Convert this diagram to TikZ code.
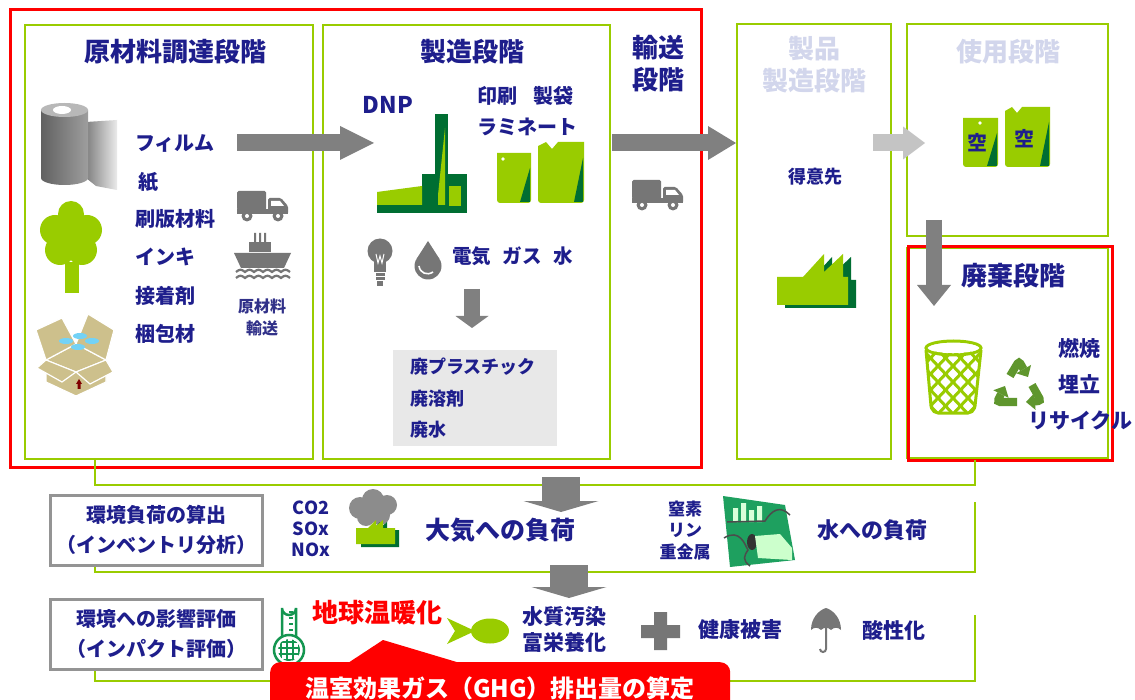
\documentclass[tikz,border=0pt]{standalone}
\usepackage{fontspec}
\setmainfont{Noto Sans CJK JP}
\usetikzlibrary{arrows.meta}
\definecolor{navy}{RGB}{30,30,140}
\definecolor{lime}{RGB}{153,204,0}
\definecolor{dkgreen}{RGB}{0,110,50}
\definecolor{pale}{RGB}{210,214,236}
\definecolor{arrowgray}{RGB}{128,128,128}
\definecolor{lightarrow}{RGB}{196,196,196}
\definecolor{icongray}{RGB}{118,118,118}
\definecolor{boxtan}{RGB}{205,192,140}
\definecolor{redline}{RGB}{255,0,0}
\definecolor{wastebg}{RGB}{232,232,232}
\definecolor{thermo}{RGB}{20,150,80}
\definecolor{waterg}{RGB}{30,160,95}
\definecolor{recyc}{RGB}{95,150,45}

\begin{document}
\begin{tikzpicture}[x=1pt,y=-1pt,
  panel/.style={draw=lime, line width=2.5pt},
  redframe/.style={draw=redline, line width=3pt},
  link/.style={draw=lime, line width=2.5pt},
  stagetitle/.style={text=navy, font=\bfseries\fontsize{26}{32}\selectfont, inner sep=0pt, align=center},
  paletitle/.style={stagetitle, text=pale},
  itemtxt/.style={text=navy, font=\bfseries\fontsize{20}{24}\selectfont, inner sep=0pt, anchor=west},
  smalltxt/.style={text=navy, font=\bfseries\fontsize{16}{22}\selectfont, inner sep=0pt, align=center},
  midtxt/.style={text=navy, font=\bfseries\fontsize{21}{26}\selectfont, inner sep=0pt, align=center},
  graybox/.style={draw=black!42, line width=3pt, fill=white, minimum width=212pt, minimum height=70pt,
    text=navy, font=\bfseries\fontsize{20}{30}\selectfont, align=center, inner sep=0pt},
  flowarrow/.style={draw=arrowgray, line width=17pt, -{Triangle[length=34pt,width=34pt,line width=0pt]}},
  lightflow/.style={draw=lightarrow, line width=17pt, -{Triangle[length=22pt,width=33pt,line width=0pt]}},
  downflow/.style={draw=arrowgray, line width=16pt, -{Triangle[length=12pt,width=33pt,line width=0pt]}},
  bigdown/.style={draw=arrowgray, line width=38pt, -{Triangle[length=11pt,width=75pt,line width=0pt]}},
  recyclearrow/.style={draw=recyc, line width=8pt, rounded corners=3pt, -{Triangle[length=9pt,width=17pt,line width=0pt]}},
]
\useasboundingbox[fill=white] (0,0) rectangle (1135,700);

% ---------- stage panels ----------
\draw[panel] (25,25) rectangle (313,459);
\draw[panel] (323,25) rectangle (610,459);
\draw[panel] (737,24) rectangle (891,459);
\draw[panel] (907,24) rectangle (1108,236);
\draw[panel] (907,248) rectangle (1108,458);
\draw[redframe] (10,10) rectangle (701,467);
\draw[redframe] (908,247) rectangle (1112,460);

% ---------- green brackets of the evaluation rows ----------
\draw[link] (95,459) -- (95,485) -- (975,485) -- (975,460);
\draw[link] (95,565) -- (95,572) -- (975,572) -- (975,502);
\draw[link] (95,668) -- (95,681) -- (975,681) -- (975,615);

% ---------- flow arrows ----------
\coordinate (a1s) at (237,143); \coordinate (a1e) at (374,143);
\coordinate (a2s) at (612,143); \coordinate (a2e) at (736,143);
\coordinate (a3s) at (873,143); \coordinate (a3e) at (925,143);
\coordinate (a4s) at (934,220); \coordinate (a4e) at (934,306);
\coordinate (a5s) at (472,289); \coordinate (a5e) at (472,328);
\coordinate (a6s) at (561,477); \coordinate (a6e) at (561,512);
\coordinate (a7s) at (569,565); \coordinate (a7e) at (569,598);
\draw[flowarrow] (a1s) -- (a1e);
\draw[flowarrow, -{Triangle[length=28pt,width=34pt,line width=0pt]}] (a2s) -- (a2e);
\draw[lightflow] (a3s) -- (a3e);
\draw[downflow, -{Triangle[length=21pt,width=34pt,line width=0pt]}] (a4s) -- (a4e);
\draw[downflow] (a5s) -- (a5e);
\draw[bigdown] (a6s) -- (a6e);
\draw[bigdown] (a7s) -- (a7e);

% ---------- raw material stage ----------
\node[stagetitle] (t1) at (175,52) {原材料調達段階};
% film roll
\shade[left color=black!50, right color=black!8] (86,122) -- (117,120) -- (117,190) -- (96,186) -- (86,178) -- cycle;
\shade[left color=black!62, right color=black!38] (41,110) -- (41,178) arc[start angle=180,end angle=0,x radius=23.5,y radius=7] -- (88,110) -- cycle;
\fill[black!28] (64.5,110) ellipse[x radius=23.5,y radius=7];
\fill[white] (62,110) ellipse[x radius=9,y radius=4];
% tree
\fill[lime] (65,262) rectangle (79,293);
\fill[lime] (71,214) circle (13) (55,230) circle (15) (87,230) circle (15) (60,250) circle (15) (82,250) circle (15) (71,238) circle (20);
% cardboard box
\begin{scope}[draw=white, line width=1.2pt, fill=boxtan]
  \filldraw (46,360) -- (76,372) -- (106,360) -- (106,382) -- (76,396) -- (46,382) -- cycle;
  \filldraw (46,360) -- (76,344) -- (106,360) -- (76,372) -- cycle;
  \filldraw (46,360) -- (76,344) -- (62,318) -- (36,330) -- cycle;
  \filldraw (76,344) -- (106,360) -- (114,330) -- (88,314) -- cycle;
  \filldraw (46,360) -- (76,372) -- (62,382) -- (37,368) -- cycle;
  \filldraw (76,372) -- (106,360) -- (113,372) -- (90,384) -- cycle;
\end{scope}
\fill[cyan!55] (66,341) ellipse[x radius=7,y radius=3] (80,336) ellipse[x radius=7,y radius=3]
  (92,341) ellipse[x radius=7,y radius=3] (78,347) ellipse[x radius=7,y radius=3];
\fill[red!50!black] (79,379) -- (82,384) -- (80.5,384) -- (80.5,389) -- (77.5,389) -- (77.5,384) -- (76,384) -- cycle;
% material names
\node[itemtxt] (m1) at (135,143) {フィルム};
\node[itemtxt] (m2) at (138,182) {紙};
\node[itemtxt] (m3) at (135,219) {刷版材料};
\node[itemtxt] (m4) at (135,257) {インキ};
\node[itemtxt] (m5) at (135,296) {接着剤};
\node[itemtxt] (m6) at (135,334) {梱包材};
% truck
\begin{scope}[fill=icongray]
  \fill[rounded corners=1.5pt] (237,191) rectangle (266,210);
  \fill[rounded corners=1.5pt] (268,198) -- (281,198) -- (288,206) -- (288,214) -- (268,214) -- cycle;
  \fill (237,209) rectangle (288,214);
  \fill[white] (271,201) -- (280,201) -- (284,206) -- (271,206) -- cycle;
  \fill (247,216) circle (5.5) (278,216) circle (5.5);
  \fill[white] (247,216) circle (2) (278,216) circle (2);
\end{scope}
% ship
\begin{scope}[fill=icongray]
  \fill (254,233) rectangle (256,243) (259,233) rectangle (261,243) (264,233) rectangle (266,243);
  \fill (249,242) rectangle (271,252);
  \fill (234,253) -- (291,253) -- (284,268) -- (241,268) -- cycle;
  \draw[icongray, line width=2.2pt] (236,272) \foreach \k in {0,...,5} { .. controls ++(3.5,-3) and ++(-3.5,-3) .. ++(9,0) };
  \draw[icongray, line width=2.2pt] (236,278) \foreach \k in {0,...,5} { .. controls ++(3.5,-3) and ++(-3.5,-3) .. ++(9,0) };
\end{scope}
\node[smalltxt, text=navy!80!gray] (m7) at (262,317) {原材料\\輸送};

% ---------- manufacturing stage ----------
\node[stagetitle] (t2) at (472,52) {製造段階};
\node[text=navy, font=\bfseries\fontsize{23}{26}\selectfont, inner sep=0pt] (dnp) at (388,105) {DNP};
\node[itemtxt] (p1) at (477,96) {印刷\hspace{0.8em}製袋};
\node[itemtxt] (p2) at (477,127) {ラミネート};
% factory
\fill[dkgreen] (422,174) rectangle (467,213);
\fill[dkgreen] (377,205) rectangle (467,213);
\fill[dkgreen] (435,114) rectangle (448,208);
\fill[lime] (377,192) -- (422,186) -- (422,205) -- (377,205) -- cycle;
\fill[lime] (449,186) rectangle (461,206);
\fill[lime] (438,195) -- (445,128) -- (445,205) -- (438,205) -- cycle;
% pouches
\fill[lime] (497,153) -- (531,153) -- (531,199) [rounded corners=3pt] -- (531,203) -- (497,203) [sharp corners] -- cycle;
\fill[dkgreen] (520,202) -- (530,168) -- (530,202) -- cycle;
\fill[white] (503,159) circle (1.8);
\fill[lime] (538,146) -- (546,142) -- (552,149) -- (558,142) -- (584,142) -- (584,199) [rounded corners=3pt] -- (584,203) -- (538,203) [sharp corners] -- cycle;
\fill[dkgreen] (574,202) -- (583,158) -- (583,202) -- cycle;
% bulb and drop
\fill[icongray] (380,251) circle (12.5);
\fill[icongray] (374,259) rectangle (386,272);
\fill[icongray] (375.5,273) rectangle (384.5,280);
\fill[icongray] (377,281) rectangle (383,286);
\draw[white, line width=1pt] (376,254) -- (378,263) -- (380,256) -- (382,263) -- (384,254);
\draw[white, line width=1pt] (375,276.5) -- (385,276.5);
\fill[icongray] (428,266) circle (13.5);
\fill[icongray] (416.5,259) -- (428,241) -- (439.5,259) -- cycle;
\draw[white, line width=1.6pt] (419,266) .. controls (420,273) and (427,276) .. (433,272);
\node[itemtxt, font=\bfseries\fontsize{19.5}{24}\selectfont] (p3) at (452,256) {電気\hspace{0.6em}ガス\hspace{0.6em}水};
% waste box
\node[fill=wastebg, minimum width=164pt, minimum height=96pt, inner sep=0pt] (wbox) at (475,398) {};
\node[itemtxt, font=\bfseries\fontsize{18}{22}\selectfont] (w1) at (410,367) {廃プラスチック};
\node[itemtxt, font=\bfseries\fontsize{18}{22}\selectfont] (w2) at (410,399) {廃溶剤};
\node[itemtxt, font=\bfseries\fontsize{18}{22}\selectfont] (w3) at (410,430) {廃水};

% ---------- transport stage ----------
\node[stagetitle] (t3) at (658,64) {輸送\\段階};
\begin{scope}[fill=icongray]
  \fill[rounded corners=1.5pt] (632,180) rectangle (661,199);
  \fill[rounded corners=1.5pt] (663,187) -- (676,187) -- (683,195) -- (683,203) -- (663,203) -- cycle;
  \fill (632,198) rectangle (683,203);
  \fill[white] (666,190) -- (675,190) -- (679,195) -- (666,195) -- cycle;
  \fill (642,205) circle (5.5) (673,205) circle (5.5);
  \fill[white] (642,205) circle (2) (673,205) circle (2);
\end{scope}

% ---------- product manufacturing stage ----------
\node[paletitle] (t4) at (814,65) {製品\\製造段階};
\node[smalltxt, font=\bfseries\fontsize{18}{22}\selectfont] (cust) at (815,177) {得意先};
\fill[dkgreen] (785,280) -- (811,280) -- (832,257) -- (832,275) -- (851,257) -- (851,280) -- (856,280) -- (856,308) -- (785,308) -- cycle;
\fill[lime] (777,277) -- (803,277) -- (824,254) -- (824,272) -- (843,254) -- (843,277) -- (848,277) -- (848,305) -- (777,305) -- cycle;

% ---------- use stage ----------
\node[paletitle] (t5) at (1008,52) {使用段階};
\fill[lime] (963,118) -- (998,118) -- (998,163) [rounded corners=3pt] -- (998,167) -- (963,167) [sharp corners] -- cycle;
\fill[dkgreen] (987,166) -- (997,133) -- (997,166) -- cycle;
\fill[white] (980,123) circle (1.8);
\fill[lime] (1005,111) -- (1012,107) -- (1017,113) -- (1022,107) -- (1050,107) -- (1050,163) [rounded corners=3pt] -- (1050,167) -- (1005,167) [sharp corners] -- cycle;
\fill[dkgreen] (1040,166) -- (1049,122) -- (1049,166) -- cycle;
\node[text=navy, font=\bfseries\fontsize{20}{24}\selectfont, inner sep=0pt] (e1) at (977,143) {空};
\node[text=navy, font=\bfseries\fontsize{20}{24}\selectfont, inner sep=0pt] (e2) at (1024,139) {空};

% ---------- disposal stage ----------
\node[stagetitle] (t6) at (1013,276) {廃棄段階};
\begin{scope}
  \clip (926,350) -- (981,350) -- (975,406) [rounded corners=5pt] -- (973,413) -- (933,413) [sharp corners] -- (931,406) -- cycle;
  \foreach \k in {-60,-45,...,60} {
    \draw[lime, line width=3pt] (953+\k-30,350) -- (953+\k+30,414);
    \draw[lime, line width=3pt] (953+\k+30,350) -- (953+\k-30,414);
  }
\end{scope}
\draw[lime, line width=3pt] (926,350) -- (931,406) [rounded corners=5pt] -- (933,413) -- (973,413) [sharp corners] -- (975,406) -- (981,350);
\draw[lime, line width=3pt] (953.5,348) ellipse[x radius=27.5,y radius=7];
\fill[white] (953.5,348) ellipse[x radius=25,y radius=5];
% recycling mark
\draw[recyclearrow] (1017,402) -- (997,402) -- (1005,386);
\draw[recyclearrow] (1010,376) -- (1019,361) -- (1028,377);
\draw[recyclearrow] (1032,385) -- (1041,401) -- (1026,402);
\node[itemtxt, font=\bfseries\fontsize{21}{24}\selectfont] (d1) at (1058,348) {燃焼};
\node[itemtxt, font=\bfseries\fontsize{21}{24}\selectfont] (d2) at (1058,384) {埋立};
\node[itemtxt, font=\bfseries\fontsize{21}{24}\selectfont] (d3) at (1028,420) {リサイクル};

% ---------- inventory analysis row ----------
\node[graybox] (b1) at (156,530) {環境負荷の算出\\（インベントリ分析）};
\node[smalltxt, font=\bfseries\fontsize{18}{21}\selectfont] (g1) at (311,508) {CO2};
\node[smalltxt, font=\bfseries\fontsize{18}{21}\selectfont] (g2) at (311,529) {SOx};
\node[smalltxt, font=\bfseries\fontsize{18}{21}\selectfont] (g3) at (311,550) {NOx};
\fill[black!45] (360,508) circle (11) (373,500) circle (11) (387,505) circle (10) (380,515) circle (10) (366,517) circle (9);
\fill[dkgreen] (361,530) -- (372,530) -- (380,522) -- (380,528) -- (387,522) -- (387,530) -- (399,530) -- (399,547) -- (361,547) -- cycle;
\fill[lime] (356,528) -- (368,528) -- (376,520) -- (376,526) -- (383,520) -- (383,528) -- (395,528) -- (395,544) -- (356,544) -- cycle;
\node[midtxt, font=\bfseries\fontsize{25}{28}\selectfont] (air) at (500,530) {大気への負荷};
\node[smalltxt, font=\bfseries\fontsize{17}{20}\selectfont] (n1) at (685,509) {窒素};
\node[smalltxt, font=\bfseries\fontsize{17}{20}\selectfont] (n2) at (685,530) {リン};
\node[smalltxt, font=\bfseries\fontsize{17}{20}\selectfont] (n3) at (685,552) {重金属};
% water pollution icon
\fill[waterg] (723,496) -- (785,505) -- (795,560) -- (730,567) -- cycle;
\fill[green!15] (733,508) rectangle (738,522) (741,503) rectangle (746,522) (749,510) rectangle (754,522) (757,506) rectangle (762,522);
\draw[black!70, line width=1.5pt] (727,522) -- (765,521) .. controls (772,510) and (780,505) .. (790,515);
\draw[black!70, line width=1.5pt] (724,538) .. controls (740,528) and (745,545) .. (748,550) .. controls (744,556) and (742,560) .. (750,566);
\fill[black!80] (752,542) ellipse[x radius=5,y radius=8];
\fill[green!20] (755,536) -- (780,534) -- (792,548) -- (792,560) -- (758,558) -- cycle;
\node[midtxt, font=\bfseries\fontsize{22}{26}\selectfont] (water) at (872,530) {水への負荷};

% ---------- impact assessment row ----------
\node[graybox] (b2) at (156,634) {環境への影響評価\\（インパクト評価）};
% thermometer
\draw[thermo, line width=2.5pt] (282,637) -- (282,608) arc[start angle=180,end angle=0,radius=7] -- (296,637);
\draw[thermo, line width=1.5pt] (289,612) -- (293,612) (289,618) -- (293,618) (289,624) -- (293,624) (289,630) -- (293,630);
\draw[thermo, line width=2.5pt] (289,650) circle (15);
\begin{scope}
  \clip (289,650) circle (11);
  \foreach \k in {-8,-2,4,10} { \draw[thermo, line width=2pt] (275,650+\k) -- (303,650+\k); \draw[thermo, line width=2pt] (289+\k,636) -- (289+\k,664); }
\end{scope}
\node[text=redline, font=\bfseries\fontsize{26}{30}\selectfont, inner sep=0pt] (gw) at (377,613) {地球温暖化};
% fish
\fill[lime] (490,631) ellipse[x radius=19,y radius=12.5];
\fill[lime] (447,618) -- (475,631) -- (447,644) -- (455,631) -- cycle;
\node[midtxt] (wq) at (564,630) {水質汚染\\富栄養化};
% health cross
\fill[icongray] (654,612) rectangle (667,650) (641,625) rectangle (680,638);
\node[midtxt] (hd) at (740,630) {健康被害};
% umbrella
\fill[icongray] (811,630) .. controls (811,618) and (819,610) .. (826,608) .. controls (833,610) and (841,618) .. (841,630)
  .. controls (838,627) and (834,627) .. (831,630) .. controls (828,627) and (824,627) .. (821,630) .. controls (818,627) and (814,627) .. (811,630) -- cycle;
\draw[icongray, line width=2pt] (826,628) -- (826,649) arc[start angle=0,end angle=180,radius=3];
\node[midtxt] (ac) at (894,630) {酸性化};

% ---------- GHG banner ----------
\fill[redline] (348,663) -- (383,640) -- (460,663) -- cycle;
\node[fill=redline, rounded corners=10pt, minimum width=460pt, minimum height=50pt, inner sep=0pt,
  anchor=north west] (banner) at (270,662) {};
\node[text=white, font=\bfseries\fontsize{24}{28}\selectfont, inner sep=0pt] (ghg) at (500,688) {温室効果ガス（GHG）排出量の算定};
\end{tikzpicture}
\end{document}
